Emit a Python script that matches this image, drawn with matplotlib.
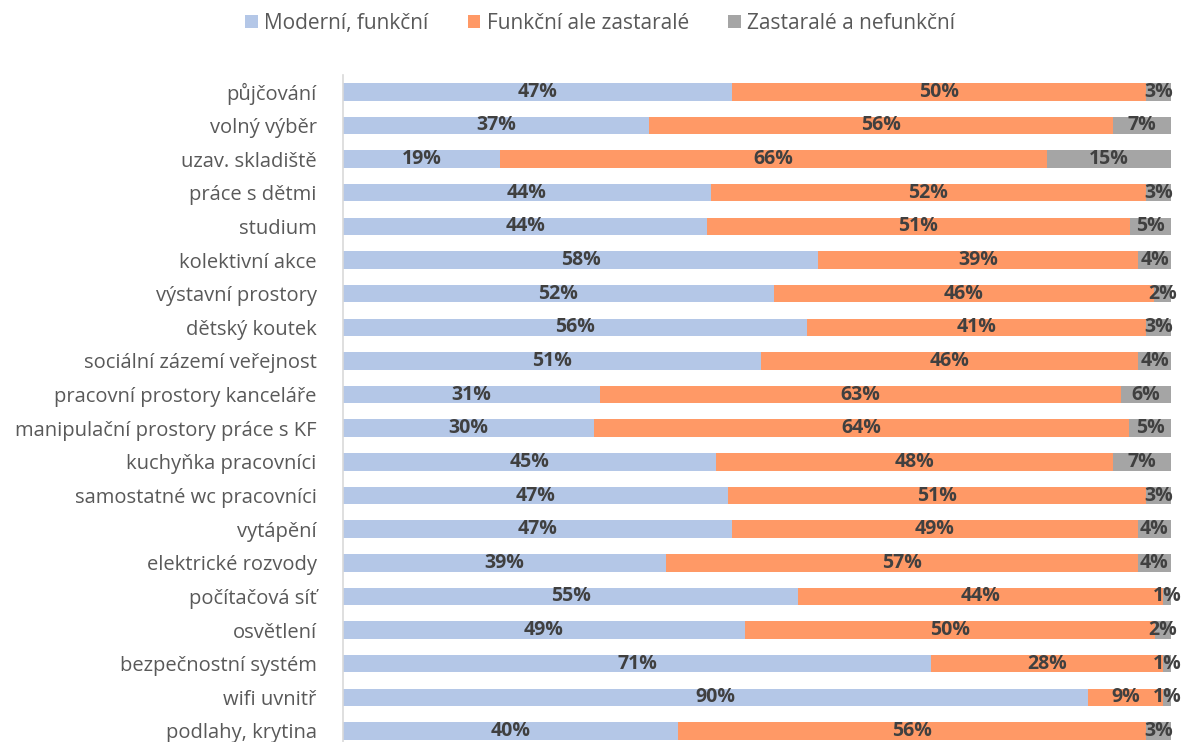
import numpy as np
import matplotlib
matplotlib.use("Agg")
import matplotlib.pyplot as plt

plt.rcParams['font.family'] = ['Open Sans', 'DejaVu Sans']

categories = [
    "půjčování", "volný výběr", "uzav. skladiště", "práce s dětmi", "studium",
    "kolektivní akce", "výstavní prostory", "dětský koutek", "sociální zázemí veřejnost",
    "pracovní prostory kanceláře", "manipulační prostory práce s KF", "kuchyňka pracovníci",
    "samostatné wc pracovníci", "vytápění", "elektrické rozvody", "počítačová síť",
    "osvětlení", "bezpečnostní systém", "wifi uvnitř", "podlahy, krytina",
]
moderni = [47, 37, 19, 44, 44, 58, 52, 56, 51, 31, 30, 45, 47, 47, 39, 55, 49, 71, 90, 40]
zastarale = [50, 56, 66, 52, 51, 39, 46, 41, 46, 63, 64, 48, 51, 49, 57, 44, 50, 28, 9, 56]
nefunkcni = [3, 7, 15, 3, 5, 4, 2, 3, 4, 6, 5, 7, 3, 4, 4, 1, 2, 1, 1, 3]

series = ["Moderní, funkční", "Funkční ale zastaralé", "Zastaralé a nefunkční"]
colors = ["#B4C7E7", "#FF9966", "#A5A5A5"]

data = np.array([moderni, zastarale, nefunkcni], dtype=float)
shares = data / data.sum(axis=0)  # 100 % stacked

fig = plt.figure(figsize=(11.84, 7.42), dpi=100)
ax = fig.add_axes([343 / 1184, 0, 828 / 1184, (742 - 75) / 742])

y = np.arange(len(categories))
left = np.zeros(len(categories))
for i, name in enumerate(series):
    ax.barh(y, shares[i], left=left, height=0.52, color=colors[i], label=name)
    for j in range(len(categories)):
        ax.text(left[j] + shares[i][j] / 2, y[j], f"{int(data[i][j])}%",
                ha="center", va="center", fontsize=14, fontweight="bold", color="#404040")
    left += shares[i]

ax.set_xlim(0, 1)
ax.set_ylim(19 + 11 / 33.63, -0.5)
ax.set_yticks(y)
ax.set_yticklabels(categories, fontsize=14.5, color="#595959")
ax.tick_params(axis="y", length=0, pad=19)
ax.set_xticks([])
for s in ["top", "right", "bottom"]:
    ax.spines[s].set_visible(False)
ax.spines["left"].set_color("#D9D9D9")
ax.spines["left"].set_linewidth(1.2)

fig.legend(loc="upper center", bbox_to_anchor=(0.507, 1.008), ncol=3, frameon=False,
           fontsize=15, handlelength=0.6, handleheight=0.6, handletextpad=0.3,
           columnspacing=1.9, labelcolor="#595959")

fig.savefig("out.png", dpi=100)
